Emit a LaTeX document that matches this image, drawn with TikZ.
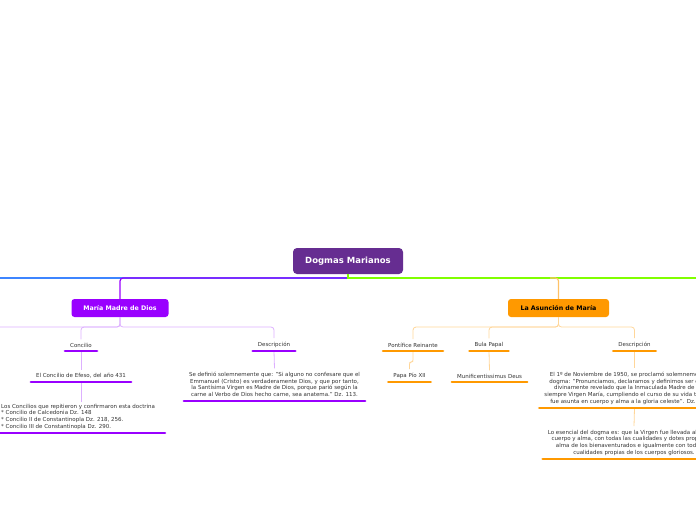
\documentclass[tikz,border=0pt]{standalone}
\usepackage{fontspec}
\setmainfont{DejaVu Sans}
\definecolor{titlec}{HTML}{662D91}
\definecolor{purp}{HTML}{9900FF}
\definecolor{lpurp}{HTML}{DDB0FF}
\definecolor{orng}{HTML}{FF9900}
\definecolor{lorng}{HTML}{FFD699}
\definecolor{limec}{HTML}{80FF00}
\definecolor{bluel}{HTML}{3D85FF}
\definecolor{txt}{HTML}{333333}
\begin{document}
\begin{tikzpicture}[x=1pt,y=-1pt,
  titlebox/.style={fill=titlec,text=white,rounded corners=4pt,minimum width=110pt,minimum height=26pt,font=\fontsize{8.5}{10}\selectfont\bfseries,inner sep=0pt},
  mainbox/.style={rounded corners=3pt,minimum height=18pt,font=\fontsize{6.3}{8}\selectfont\bfseries,inner sep=0pt},
  leaf/.style={text=txt,font=\fontsize{5.5}{6.7}\selectfont,inner xsep=5pt,inner ysep=3.5pt,anchor=south},
  mainline/.style={line width=1.2pt},
  subline/.style={line width=0.8pt,rounded corners=3pt},
  ubar/.style={line width=2.6pt,line cap=round}]
\clip (0,0) rectangle (696,520);
\useasboundingbox (0,0) rectangle (696,520);

% title
\node[titlebox] (title) at (348,261) {Dogmas Marianos};
\coordinate (leftend) at (-5,278);
\coordinate (rightend) at (701,278);
\coordinate (junction) at (348,278);

% main branches
\node[mainbox,fill=purp,text=white,minimum width=97pt] (mdd) at (120,308) {María Madre de Dios};
\node[mainbox,fill=orng,text=black,minimum width=101pt] (asun) at (558.5,308) {La Asunción de María};

\draw[mainline,bluel] (junction) -- (leftend);
\draw[mainline,purp,rounded corners=3pt] (junction) -| (mdd.north);
\draw[mainline,limec] (title.south) |- (rightend);
\draw[mainline,orng!60,rounded corners=3pt] (550,278) -| (asun.north);

% Maria Madre de Dios children
\node[leaf] (conc) at (81,351) {Concilio};
\node[leaf] (descL) at (274,351) {Descripción};
\node[leaf] (efeso) at (81,382) {El Concilio de Efeso, del año 431};
\node[leaf,align=left,anchor=south west,inner xsep=1pt] (concs) at (0,433) {Los Concilios que repitieron y confirmaron esta doctrina\\
* Concilio de Calcedonia Dz. 148\\
* Concilio II de Constantinopla Dz. 218, 256.\\
* Concilio III de Constantinopla Dz. 290.};
\node[leaf,align=center] (descLt) at (274.5,401) {Se definió solemnemente que: "Si alguno no confesare que el\\
Emmanuel (Cristo) es verdaderamente Dios, y que por tanto,\\
la Santísima Virgen es Madre de Dios, porque parió según la\\
carne al Verbo de Dios hecho carne, sea anatema." Dz. 113.};

\coordinate (mddleft) at (-5,327);
\coordinate (efesobot) at (81,402);
\draw[subline,lpurp] (mdd.south) |- (mddleft);
\draw[subline,lpurp] (mdd.south) |- (100,327) -| (conc.north);
\draw[subline,lpurp] (mdd.south) |- (150,327) -| (descL.north);
\draw[subline,lpurp] (conc.south) -- (efeso.north);
\draw[subline,lpurp] (efeso.south) -- (efesobot);
\draw[subline,lpurp] (descL.south) -- (descLt.north);

\foreach \n in {conc,descL,efeso,descLt}
  \draw[ubar,purp] (\n.south west) -- (\n.south east);
\draw[ubar,purp] (-5,433) -- (165,433);

% La Asuncion children
\node[leaf] (pont) at (413,351) {Pontífice Reinante};
\node[leaf] (bula) at (489,351) {Bula Papal};
\node[leaf] (descR) at (634.5,351) {Descripción};
\node[leaf] (papa) at (409.5,382) {Papa Pío XII};
\node[leaf] (muni) at (489.5,382) {Munificentissimus Deus};
\node[leaf,align=center] (descRt) at (632,408) {El 1º de Noviembre de 1950, se proclamó solemnemente el\\
dogma: "Pronunciamos, declaramos y definimos ser dogma\\
divinamente revelado que la Inmaculada Madre de Dios,\\
siempre Virgen María, cumpliendo el curso de su vida terrestre,\\
fue asunta en cuerpo y alma a la gloria celeste". Dz. 2333.};
\node[leaf,align=center] (esen) at (634,459) {Lo esencial del dogma es: que la Virgen fue llevada al cielo en\\
cuerpo y alma, con todas las cualidades y dotes propias del\\
alma de los bienaventurados e igualmente con todas las\\
cualidades propias de los cuerpos gloriosos.};

\draw[subline,lorng] (asun.south) |- (450,327) -| (pont.north);
\draw[subline,lorng] (asun.south) |- (500,327) -| (bula.north);
\draw[subline,lorng] (asun.south) |- (600,327) -| (descR.north);
\draw[subline,lorng,rounded corners=2pt] (pont.south) -- ++(0,11) -| (papa.north);
\draw[subline,lorng] (bula.south) -- (muni.north);
\draw[subline,lorng] (descR.south) -- (descRt.north -| descR.south);
\draw[subline,lorng] (descR.south |- descRt.south) -- (esen.north);

\foreach \n in {pont,bula,descR,papa,muni,descRt,esen}
  \draw[ubar,orng] (\n.south west) -- (\n.south east);
\end{tikzpicture}
\end{document}
